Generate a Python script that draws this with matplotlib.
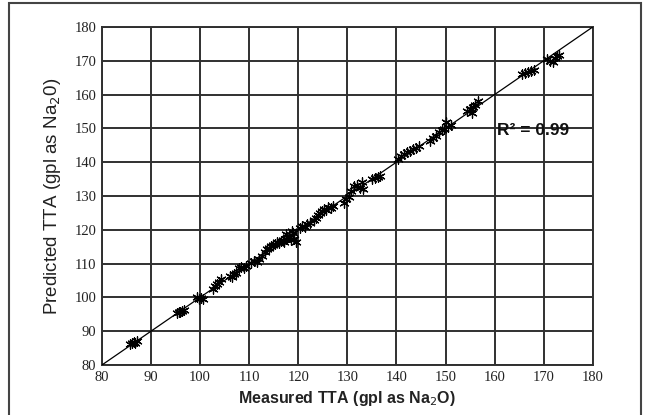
import matplotlib.pyplot as plt
from matplotlib.patches import Rectangle

# measured vs predicted TTA
measured = [
    85.8, 86.2, 86.5, 86.8, 87.2,
    95.3, 95.7, 96.0, 96.4, 96.8,
    99.3, 99.7, 100.1, 100.5,
    102.6, 103.0, 103.4, 103.9, 104.2,
    106.0, 106.5, 107.0, 107.4,
    107.9, 108.4, 108.9, 109.4,
    110.4, 110.9, 111.5, 112.0, 112.6,
    113.2, 113.7, 114.1, 114.5, 114.9, 115.3, 115.7, 116.0, 116.4, 116.8,
    117.1, 117.5, 117.8, 118.2, 118.5, 118.9, 119.2, 119.5, 117.6, 118.8,
    120.3, 120.8, 121.3, 121.8, 122.3,
    123.2, 123.7, 124.1, 124.5, 124.9, 125.3, 125.7, 126.1, 126.6, 127.0,
    129.3, 129.8, 130.3, 130.8, 131.3,
    132.0, 132.5, 132.9, 133.2,
    135.0, 135.6, 136.2, 136.7,
    140.4, 141.0, 141.6, 142.2, 142.8, 143.4, 144.0, 144.7,
    146.8, 147.4, 148.0, 148.6, 149.2, 149.7, 150.1, 150.6, 151.2,
    154.4, 154.9, 155.3, 155.7, 156.1, 156.6, 155.2,
    165.6, 166.2, 166.8, 167.4, 168.0,
    170.6, 171.2, 171.8, 172.3, 172.8, 173.2,
]
predicted = [
    86.3, 86.6, 86.9, 86.5, 87.0,
    95.4, 95.8, 95.6, 96.1, 96.3,
    100.0, 99.5, 99.8, 99.6,
    102.5, 103.4, 104.0, 104.6, 105.4,
    106.3, 106.0, 106.8, 107.2,
    108.6, 109.0, 108.7, 109.3,
    110.2, 110.8, 110.5, 111.5, 112.2,
    113.5, 114.2, 114.6, 115.3, 115.6, 115.9, 116.4, 116.2, 116.8, 117.0,
    116.5, 117.3, 117.8, 118.0, 117.0, 119.0, 117.2, 116.4, 118.8, 119.6,
    120.4, 121.2, 120.8, 121.6, 122.0,
    123.0, 123.6, 124.4, 124.9, 125.6, 126.2, 125.8, 126.8, 126.4, 127.1,
    127.8, 129.2, 129.8, 131.5, 133.0,
    133.2, 132.4, 134.0, 132.2,
    135.0, 135.3, 135.6, 135.9,
    141.0, 141.8, 142.4, 142.9, 143.3, 143.8, 144.2, 144.9,
    146.3, 147.2, 147.8, 148.9, 149.4, 149.8, 151.8, 150.4, 151.0,
    155.0, 155.6, 154.6, 156.2, 157.0, 158.0, 155.8,
    166.0, 166.4, 166.7, 167.0, 167.4,
    170.4, 170.0, 169.7, 170.8, 171.4, 171.8,
]
ticks = [80, 90, 100, 110, 120, 130, 140, 150, 160, 170, 180]

fig = plt.figure(figsize=(6.45, 4.15), dpi=100)
ax = fig.add_axes([0.158, 0.1205, 0.761, 0.8145])

grid_col = '#303030'
ax.set_xlim(80, 180)
ax.set_ylim(80, 180)
ax.set_xticks(ticks)
ax.set_yticks(ticks)
ax.grid(True, color=grid_col, linewidth=1.4)
ax.set_axisbelow(True)
for s in ax.spines.values():
    s.set_color(grid_col)
    s.set_linewidth(1.4)
ax.tick_params(length=0, pad=4, labelsize=10.5, labelcolor='#222222')
for lab in ax.get_xticklabels() + ax.get_yticklabels():
    lab.set_family('Liberation Serif')

# 1:1 line
ax.plot([80, 180], [80, 180], color='black', linewidth=0.9, zorder=3)
ax.scatter(measured, predicted, marker=(6, 2, 0), s=45, color='black',
           linewidths=0.9, zorder=4)

ax.text(160.4, 149.3, 'R\u00b2 = 0.99', fontsize=12.5, fontweight='bold',
        family='Liberation Sans', color='#111111', va='center', ha='left')

ax.set_xlabel('Measured TTA (gpl as Na$_2$O)', fontsize=11.5, fontweight='bold',
              family='Liberation Sans', color='#222222', labelpad=4)
ax.set_ylabel('Predicted TTA (gpl as Na$_2$0)', fontsize=13.5,
              family='Liberation Sans', color='#222222', labelpad=8)

# outer frame
fig.patches.append(Rectangle((9 / 645, -0.05), 632 / 645, 1.05 - 3 / 415,
                             transform=fig.transFigure, fill=False,
                             edgecolor='#444444', linewidth=1.5))

plt.savefig('out.png', dpi=100)
